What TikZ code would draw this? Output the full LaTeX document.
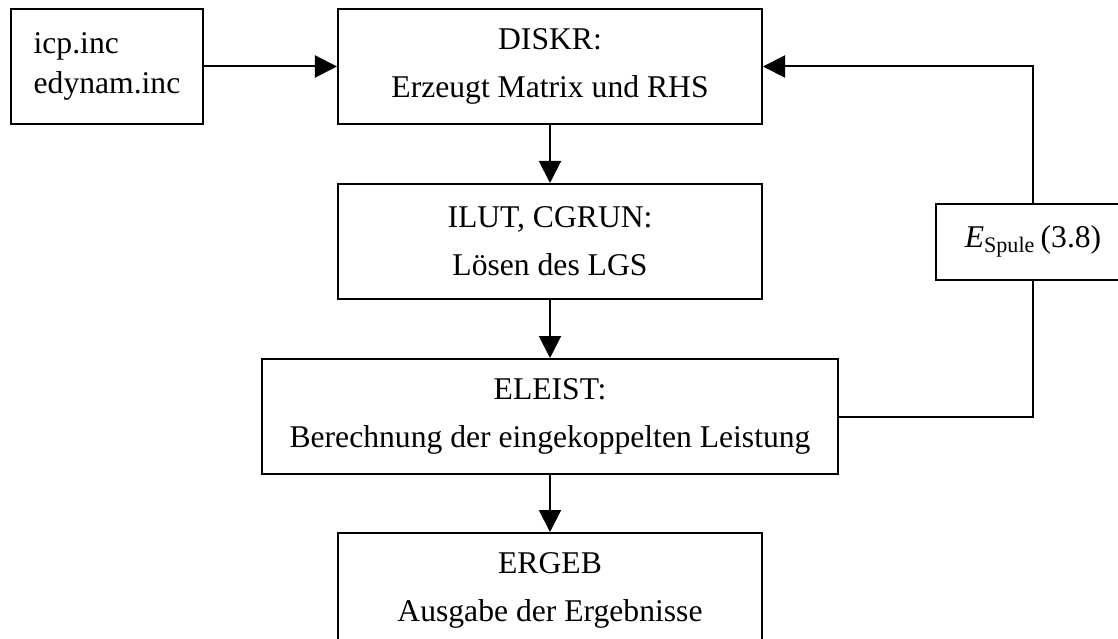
\documentclass[tikz,border=0pt]{standalone}
\usepackage{fontspec}
\setmainfont{Liberation Serif}
\usetikzlibrary{arrows.meta,positioning}
\newcommand\boxfont{\fontsize{18}{27.3}\selectfont}
\newcommand\incfont{\fontsize{18}{22.8}\selectfont}

\begin{document}
\begin{tikzpicture}[>={Triangle[length=4.4mm,width=4.4mm]}, x=0.2mm, y=-0.2mm,
  node distance=11.6mm and 26.6mm,
  line width=0.4mm,
  proc/.style={draw,line width=0.4mm,align=center,minimum width=84.8mm,minimum height=23mm,font=\boxfont,inner sep=0pt},
  inc/.style={draw,line width=0.4mm,align=left,minimum width=38.4mm,minimum height=23mm,font=\incfont,inner sep=0pt},
  fb/.style={draw,line width=0.4mm,align=center,minimum width=38.8mm,minimum height=15.2mm,font=\boxfont,inner sep=0pt}]
\useasboundingbox (0,0) rectangle (1118,639);
\node[proc] (diskr) at (550,66.5) {DISKR:\\Erzeugt Matrix und RHS};
\node[inc,left=of diskr] (inc) {icp.inc\\edynam.inc};
\node[proc,below=of diskr] (ilut) {ILUT, CGRUN:\\Lösen des LGS};
\node[proc,below=of ilut,minimum width=115.2mm] (eleist) {ELEIST:\\Berechnung der eingekoppelten Leistung};
\node[proc,below=11.4mm of eleist] (ergeb) {ERGEB\\Ausgabe der Ergebnisse};
\node[fb,right=34.4mm of ilut] (espule) {\textit{E}\textsubscript{Spule}\,(3.8)};
\draw[->] (inc) -- (diskr);
\draw[->] (diskr) -- (ilut);
\draw[->] (ilut) -- (eleist);
\draw[->] (eleist) -- (ergeb);
\draw (eleist.east) -| (espule.south);
\draw[->] (espule.north) |- (diskr.east);
\end{tikzpicture}
\end{document}
